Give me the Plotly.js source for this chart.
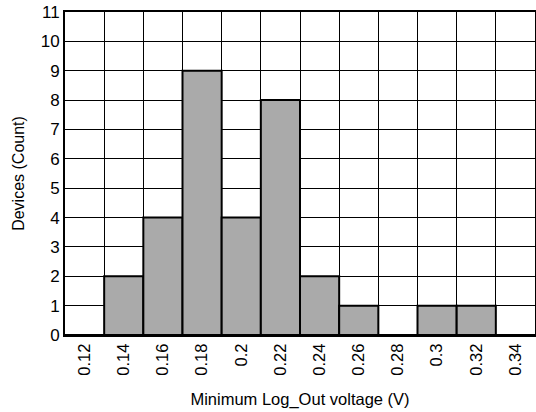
<!DOCTYPE html>
<html>
<head>
<meta charset="utf-8">
<script src="https://cdn.plot.ly/plotly-3.0.1.min.js"></script>
<style>html,body{margin:0;padding:0;background:#fff}#chart{width:536px;height:412px}</style>
</head>
<body>
<div id="chart"></div>
<script>
var categories = ["0.12","0.14","0.16","0.18","0.2","0.22","0.24","0.26","0.28","0.3","0.32","0.34"];
var counts = [0,2,4,9,4,8,2,1,0,1,1,0];
var yTickVals = [0,1,2,3,4,5,6,7,8,9,10,11];

var trace = {
  type: 'bar',
  x: categories,
  y: counts,
  marker: {color: '#aaaaaa', line: {color: '#000000', width: 2}},
  width: 1,
  hoverinfo: 'x+y'
};
var layout = {
  width: 536, height: 412,
  margin: {l: 65, r: 1, t: 12, b: 77},
  paper_bgcolor: '#fff', plot_bgcolor: '#fff',
  font: {family: 'Liberation Sans, Arial, sans-serif', color: '#000', size: 16},
  bargap: 0,
  showlegend: false,
  xaxis: {
    type: 'category',
    tickson: 'boundaries',
    tickangle: -90,
    showgrid: true, gridcolor: '#000', gridwidth: 1,
    showline: true, linecolor: '#000', linewidth: 2, mirror: true,
    ticks: '', ticklen: 0,
    tickfont: {size: 16.5},
    title: {text: 'Minimum Log_Out voltage (V)', font: {size: 16.5}, standoff: 19},
    zeroline: false
  },
  yaxis: {
    range: [0, 11],
    tickvals: yTickVals,
    showgrid: true, gridcolor: '#000', gridwidth: 1,
    showline: true, linecolor: '#000', linewidth: 2, mirror: true,
    ticks: '',
    tickfont: {size: 17},
    title: {text: 'Devices (Count)', font: {size: 16}, standoff: 12},
    zeroline: false
  }
};
Plotly.newPlot('chart', [trace], layout, {displayModeBar: false, staticPlot: true});
</script>
</body>
</html>
